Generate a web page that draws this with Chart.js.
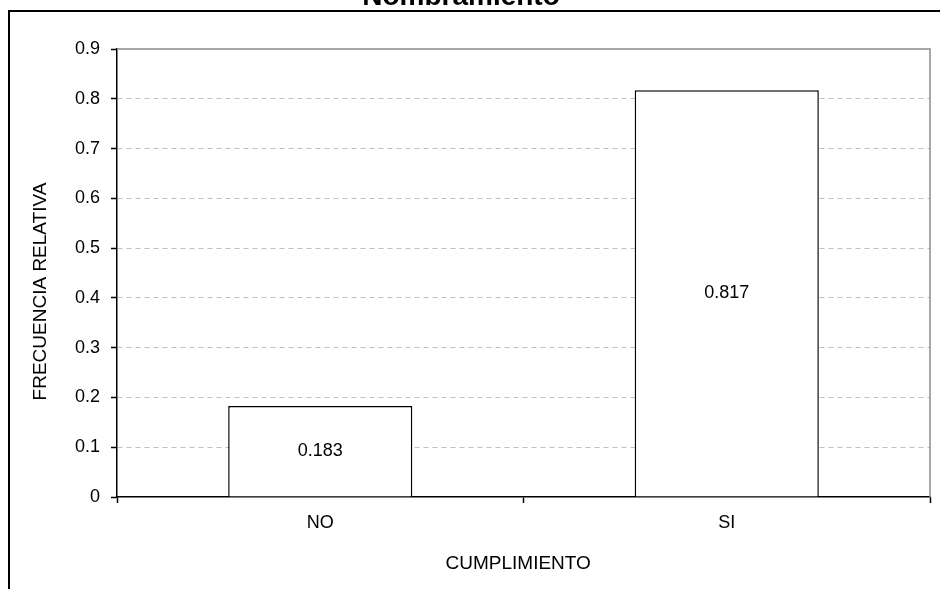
<!DOCTYPE html>
<html><head><meta charset="utf-8">
<script src="https://cdn.jsdelivr.net/npm/chart.js@4.4.0/dist/chart.umd.min.js"></script>
<style>
html,body{margin:0;padding:0;background:#fff;overflow:hidden;width:940px;height:589px;}
#wrap{position:absolute;left:-8px;top:-22px;width:948px;height:611px;}
</style></head><body>
<div id="wrap"><canvas id="c" width="948" height="611"></canvas></div>
<script>
const chartTitle = 'Nombramiento';
const categories = ['NO', 'SI'];
const frecuenciaRelativa = [0.183, 0.817];
const yTickLabels = ['0', '0.1', '0.2', '0.3', '0.4', '0.5', '0.6', '0.7', '0.8', '0.9'];
const xAxisTitle = 'CUMPLIMIENTO';
const yAxisTitle = 'FRECUENCIA RELATIVA';

const FONT = '"Liberation Sans", Arial, sans-serif';

const decor = {
  id: 'decor',
  beforeDatasetsDraw(chart) {
    const {ctx, chartArea: a} = chart;
    ctx.save();
    ctx.strokeStyle = '#8c8c8c';
    ctx.lineWidth = 1.5;
    ctx.beginPath();
    ctx.moveTo(a.left, a.top);
    ctx.lineTo(a.right, a.top);
    ctx.lineTo(a.right, a.bottom);
    ctx.stroke();
    ctx.restore();
  },
  afterDraw(chart) {
    const {ctx} = chart;
    const meta = chart.getDatasetMeta(0);
    ctx.save();
    ctx.font = '18px ' + FONT;
    ctx.fillStyle = '#000';
    ctx.textAlign = 'center';
    ctx.textBaseline = 'middle';
    meta.data.forEach((bar, i) => {
      ctx.fillText(frecuenciaRelativa[i].toFixed(3), bar.x, (bar.y + bar.base) / 2);
    });
    ctx.strokeStyle = '#000';
    ctx.lineWidth = 2;
    ctx.beginPath();
    ctx.moveTo(17, chart.height + 5);
    ctx.lineTo(17, 33);
    ctx.lineTo(chart.width + 5, 33);
    ctx.stroke();
    ctx.restore();
  }
};

new Chart(document.getElementById('c'), {
  type: 'bar',
  data: {
    labels: categories,
    datasets: [{
      data: frecuenciaRelativa,
      backgroundColor: '#ffffff',
      borderColor: '#000000',
      borderWidth: 1.5,
      borderSkipped: 'start',
      barPercentage: 0.453,
      categoryPercentage: 1.0
    }]
  },
  options: {
    responsive: false,
    animation: false,
    devicePixelRatio: 1,
    layout: { padding: { left: 0, right: 10, top: 0, bottom: 0 } },
    plugins: {
      legend: { display: false },
      tooltip: { enabled: false },
      title: {
        display: true,
        text: chartTitle,
        color: '#000',
        font: { family: FONT, size: 28, weight: 'bold', lineHeight: 1.2 },
        padding: { top: 2, bottom: 35.4 }
      }
    },
    scales: {
      x: {
        offset: true,
        grid: { offset: true, drawOnChartArea: false, drawTicks: true, tickLength: 6, color: '#000', tickColor: '#000', tickWidth: 1.5 },
        border: { display: true, color: '#000', width: 1.5 },
        ticks: { color: '#000', font: { family: FONT, size: 18 }, padding: 9 },
        title: { display: true, text: xAxisTitle + '  ', color: '#000', font: { family: FONT, size: 19, lineHeight: 1.2 }, padding: { top: 0, bottom: 13.6 } },
        afterFit(scale) { scale.height = 92; }
      },
      y: {
        min: 0,
        max: 0.9,
        grid: {
          color: (c) => (c.tick && (Math.abs(c.tick.value - 0.9) < 1e-9 || c.tick.value === 0)) ? 'rgba(0,0,0,0)' : '#c0c0c0',
          lineWidth: 1,
          tickLength: 6,
          tickColor: '#000',
          tickWidth: 1.5
        },
        border: { display: true, color: '#000', width: 1.5, dash: [5, 4] },
        ticks: {
          stepSize: 0.1,
          color: '#000',
          font: { family: FONT, size: 18 },
          padding: 11,
          callback: (v, i) => yTickLabels[i]
        },
        title: { display: true, text: yAxisTitle + '       ', color: '#000', font: { family: FONT, size: 19, lineHeight: 1.2 }, padding: { top: 37.6, bottom: 0 } },
        afterFit(scale) { scale.width = 125; }
      }
    }
  },
  plugins: [decor]
});
</script>
</body></html>
